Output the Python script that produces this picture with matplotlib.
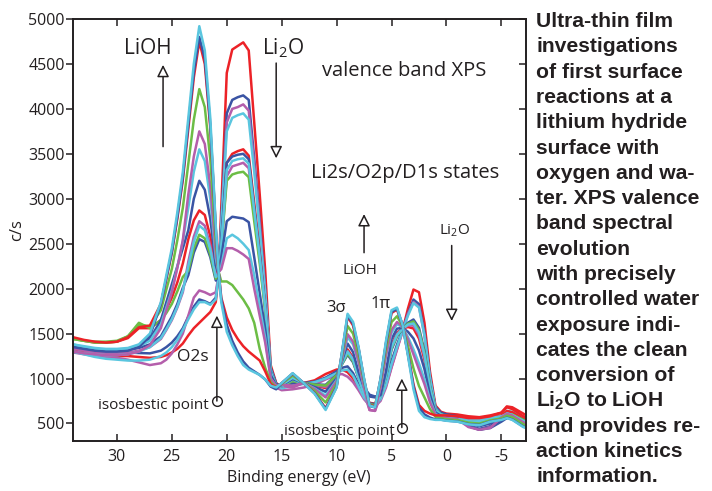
import matplotlib
matplotlib.use('Agg')
import matplotlib.pyplot as plt

plt.rcParams['font.family'] = ['Open Sans', 'DejaVu Sans']
plt.rcParams['mathtext.fontset'] = 'custom'
plt.rcParams['mathtext.rm'] = 'Open Sans'
plt.rcParams['mathtext.bf'] = 'Liberation Sans:bold'

# binding energy grid (eV), shared by all spectra
energy = [34, 33, 32, 31, 30, 29, 28, 27, 26, 25.5, 25, 24.5, 24,
          23.5, 23, 22.5, 22, 21.5, 21, 20.75, 20.5, 20, 19.5, 19, 18.5, 18, 17.5, 17, 16.5, 16, 15.5,
          15, 14, 13, 12, 11, 10, 9.5, 9, 8.5, 8, 7.5, 7, 6.5, 6, 5.5,
          5, 4.5, 4, 3.5, 3, 2.5, 2, 1.5, 1, 0.5, 0, -1, -2, -3, -4, -5, -5.5, -6, -7, -7.5]

# spectra (c/s), from Li2O-like (first) to LiOH-like (last)
s01 = [1320, 1290, 1270, 1260, 1250, 1250, 1240, 1230, 1240, 1260, 1290, 1330, 1390,
       1480, 1560, 1620, 1680, 1740, 1850, 2150, 2900, 4400, 4660, 4700, 4740, 4650, 3850, 3050, 2200, 1150, 950,
       900, 930, 950, 980, 1050, 1100, 1100, 1070, 1000, 900, 800, 730, 720, 780, 920,
       1130, 1330, 1530, 1780, 1990, 1960, 1620, 1080, 700, 630, 610, 600, 580, 570, 590, 620, 690, 680, 610, 570]
s02 = [1356, 1327, 1307, 1297, 1288, 1289, 1284, 1280, 1310, 1350, 1400, 1470, 1560,
       1690, 1800, 1880, 1860, 1830, 1900, 2150, 2750, 3950, 4100, 4130, 4150, 4100, 3450, 2750, 2000, 1120, 945,
       905, 943, 950, 965, 1010, 1080, 1120, 1135, 1060, 935, 810, 725, 714, 787, 953,
       1193, 1376, 1537, 1727, 1879, 1828, 1515, 1027, 684, 621, 602, 580, 500, 470, 500, 560, 600, 600, 550, 520]
s03 = [1290, 1270, 1250, 1240, 1230, 1210, 1180, 1150, 1170, 1210, 1280, 1380, 1500,
       1700, 1900, 1980, 1960, 1930, 1960, 2150, 2700, 3850, 4000, 4020, 4050, 3980, 3380, 2700, 1980, 1080, 900,
       870, 880, 900, 930, 990, 1040, 1050, 1020, 960, 870, 770, 700, 690, 750, 900,
       1120, 1320, 1520, 1720, 1850, 1800, 1480, 1000, 660, 590, 570, 550, 520, 500, 540, 580, 620, 610, 560, 530]
s04 = [1300, 1270, 1240, 1220, 1210, 1200, 1200, 1210, 1250, 1290, 1350, 1430, 1540,
       1660, 1770, 1850, 1850, 1820, 1880, 2140, 2700, 3750, 3900, 3930, 3950, 3880, 3300, 2650, 1950, 1100, 930,
       890, 920, 940, 960, 1000, 1060, 1090, 1100, 1030, 910, 790, 710, 700, 770, 930,
       1160, 1350, 1530, 1700, 1840, 1790, 1480, 1010, 670, 600, 580, 570, 550, 540, 560, 590, 640, 630, 570, 540]
s05 = [1450, 1420, 1400, 1400, 1410, 1450, 1560, 1560, 1650, 1770, 1900, 2070, 2280,
       2550, 2760, 2870, 2820, 2580, 2190, 2170, 2480, 3400, 3500, 3530, 3550, 3480, 2950, 2400, 1800, 1060, 930,
       920, 981, 950, 921, 894, 1022, 1178, 1324, 1234, 1037, 839, 710, 697, 807, 1049,
       1376, 1509, 1557, 1573, 1557, 1445, 1210, 873, 638, 595, 579, 569, 545, 535, 563, 589, 639, 625, 551, 519]
s06 = [1370, 1345, 1325, 1315, 1310, 1320, 1340, 1380, 1470, 1580, 1690, 1830, 2010,
       2150, 2400, 2550, 2520, 2350, 2090, 2160, 2550, 3400, 3470, 3490, 3500, 3440, 2900, 2380, 1800, 1080, 935,
       915, 969, 950, 935, 930, 1040, 1160, 1265, 1180, 1005, 880, 800, 790, 830, 1019,
       1319, 1468, 1551, 1621, 1657, 1564, 1305, 921, 652, 603, 586, 576, 480, 440, 470, 570, 590, 590, 540, 510]
s07 = [1330, 1310, 1290, 1280, 1280, 1290, 1310, 1350, 1440, 1540, 1650, 1790, 1960,
       2300, 2580, 2750, 2700, 2480, 2150, 2160, 2450, 3250, 3360, 3380, 3400, 3340, 2830, 2330, 1770, 1060, 920,
       918, 900, 950, 926, 906, 1028, 1172, 1304, 1216, 1026, 836, 650, 640, 805, 1039,
       1357, 1496, 1555, 1589, 1590, 1485, 1242, 889, 642, 598, 581, 571, 470, 430, 460, 530, 570, 570, 520, 500]
s08 = [1440, 1420, 1410, 1410, 1420, 1470, 1620, 1560, 1650, 1730, 1830, 1970, 2130,
       2200, 2450, 2600, 2560, 2380, 2110, 2160, 2450, 3200, 3270, 3290, 3300, 3240, 2750, 2280, 1750, 1060, 925,
       916, 972, 950, 932, 922, 1036, 1164, 1278, 1192, 1012, 832, 714, 701, 802, 1026,
       1332, 1477, 1552, 1610, 1635, 1538, 1284, 910, 649, 601, 584, 574, 551, 541, 568, 570, 600, 600, 540, 510]
s09 = [1300, 1280, 1270, 1260, 1260, 1270, 1300, 1350, 1450, 1550, 1660, 1800, 1980,
       2250, 2520, 2700, 2650, 2440, 2130, 2160, 2480, 3320, 3420, 3440, 3450, 3390, 2870, 2350, 1790, 1070, 925,
       915, 990, 940, 900, 850, 1000, 1170, 1300, 1210, 1010, 820, 690, 680, 800, 1030,
       1345, 1485, 1553, 1600, 1612, 1511, 1263, 899, 645, 600, 582, 572, 550, 540, 565, 580, 600, 590, 530, 500]
s10 = [1360, 1340, 1320, 1310, 1310, 1320, 1360, 1440, 1650, 1850, 2050, 2250, 2450,
       2650, 3000, 3200, 3100, 2780, 2260, 2170, 2350, 2750, 2800, 2790, 2780, 2740, 2350, 1950, 1550, 1037, 925,
       925, 994, 950, 906, 854, 1002, 1198, 1389, 1294, 1072, 900, 820, 800, 814, 1082,
       1439, 1555, 1564, 1520, 1446, 1313, 1105, 820, 622, 586, 571, 561, 470, 430, 450, 520, 560, 560, 510, 490]
s11 = [1380, 1350, 1330, 1320, 1320, 1330, 1360, 1420, 1600, 1790, 1980, 2240, 2530,
       2900, 3300, 3550, 3420, 3000, 2340, 2180, 2250, 2560, 2600, 2560, 2500, 2430, 2150, 1800, 1450, 1000, 915,
       930, 1008, 950, 890, 810, 980, 1220, 1460, 1380, 1180, 900, 700, 690, 900, 1250,
       1508, 1606, 1572, 1462, 1324, 1168, 990, 762, 604, 576, 562, 552, 526, 516, 548, 572, 612, 596, 520, 492]
s12 = [1300, 1280, 1270, 1260, 1260, 1270, 1300, 1370, 1560, 1760, 1960, 2230, 2540,
       3050, 3470, 3750, 3610, 3140, 2400, 2183, 2217, 2450, 2450, 2420, 2380, 2330, 2000, 1700, 1400, 1000, 917,
       933, 920, 950, 883, 790, 970, 1230, 1493, 1410, 1190, 900, 650, 640, 900, 1260,
       1540, 1629, 1576, 1435, 1269, 1102, 938, 736, 596, 572, 558, 548, 460, 430, 450, 568, 606, 589, 512, 486]
s13 = [1440, 1420, 1400, 1400, 1410, 1470, 1600, 1580, 1760, 1990, 2220, 2540, 2900,
       3390, 3880, 4220, 4020, 3440, 2520, 2190, 2080, 2080, 2040, 1960, 1880, 1780, 1620, 1330, 1120, 960, 900,
       940, 1033, 950, 861, 734, 942, 1258, 1584, 1500, 1260, 960, 710, 700, 960, 1330,
       1628, 1693, 1585, 1361, 1113, 917, 790, 661, 574, 559, 547, 537, 509, 499, 535, 557, 587, 569, 491, 467]
s14 = [1460, 1430, 1410, 1400, 1410, 1460, 1570, 1590, 1830, 2110, 2400, 2780, 3210,
       3780, 4350, 4750, 4500, 3790, 2660, 2200, 1900, 1680, 1540, 1440, 1360, 1300, 1250, 1200, 1080, 940, 900,
       948, 1054, 950, 838, 670, 910, 1290, 1688, 1590, 1330, 990, 705, 690, 990, 1390,
       1729, 1767, 1597, 1276, 935, 706, 640, 610, 590, 590, 590, 580, 560, 560, 580, 620, 680, 660, 580, 540]
s15 = [1350, 1330, 1310, 1300, 1300, 1310, 1350, 1470, 1830, 2120, 2410, 2800, 3240,
       3830, 4410, 4800, 4560, 3830, 2670, 2200, 1880, 1600, 1420, 1290, 1190, 1120, 1080, 1040, 990, 910, 880,
       949, 1056, 950, 835, 662, 906, 1294, 1700, 1610, 1340, 990, 700, 680, 990, 1400,
       1741, 1776, 1598, 1266, 913, 680, 601, 566, 545, 543, 532, 522, 493, 483, 522, 542, 564, 544, 465, 444]
s16 = [1380, 1360, 1340, 1330, 1330, 1340, 1380, 1500, 1850, 2150, 2450, 2850, 3300,
       3900, 4500, 4920, 4650, 3900, 2700, 2200, 1850, 1520, 1370, 1250, 1150, 1100, 1070, 1040, 990, 920, 900,
       950, 1060, 950, 830, 650, 900, 1300, 1720, 1630, 1350, 1000, 700, 680, 1000, 1420,
       1760, 1790, 1600, 1250, 880, 640, 570, 550, 540, 540, 530, 520, 490, 480, 520, 540, 560, 540, 460, 440]

red, blue, green, magenta, cyan = '#ec2227', '#3a54a4', '#6cbd45', '#b45eab', '#5ac6df'
spectra = [(s01, red), (s02, blue), (s03, magenta), (s04, cyan), (s05, red), (s06, blue),
           (s07, magenta), (s08, green), (s09, cyan), (s10, blue), (s11, cyan), (s12, magenta),
           (s13, green), (s14, red), (s15, blue), (s16, cyan)]

side_text = ['Ultra-thin film', 'investigations', 'of first surface', 'reactions at a',
             'lithium hydride', 'surface with', 'oxygen and wa-', 'ter. XPS valence',
             'band spectral', 'evolution', 'with precisely', 'controlled water',
             'exposure indi-', 'cates the clean', 'conversion of', r'Li$_\mathbf{2}$O to LiOH',
             'and provides re-', 'action kinetics', 'information.']

fig = plt.figure(figsize=(7.12, 4.91), dpi=100)
ax = fig.add_axes([73 / 712, 1 - 441 / 491, (525.5 - 73) / 712, (441 - 19) / 491])

for vals, col in spectra:
    ax.plot(energy, vals, color=col, lw=1.8, solid_joinstyle='round')

ax.set_xlim(34, -7.2)
ax.set_ylim(305, 5000)
ax.set_xticks([30, 25, 20, 15, 10, 5, 0, -5])
ax.set_xticklabels(['30', '25', '20', '15', '10', '5', '0', '-5'])
ax.set_yticks(range(500, 5001, 500))
ax.tick_params(axis='both', labelsize=11.5, colors='#231f20', width=1.1, length=5)
ax.tick_params(axis='y', direction='out', pad=1, right=True)
ax.tick_params(axis='x', direction='in', pad=6, top=True)
# right ticks point inward, left ticks outward
for t in ax.yaxis.get_major_ticks():
    t.tick2line.set_marker(matplotlib.lines.TICKLEFT)
for sp in ax.spines.values():
    sp.set_linewidth(1.4)
    sp.set_color('#231f20')
ax.set_xlabel('Binding energy (eV)', fontsize=11.5, color='#231f20', labelpad=3)
ax.set_ylabel('c/s', fontsize=12, color='#231f20', labelpad=2)

txt = dict(color='#231f20', ha='center', va='center')
arr = dict(arrowstyle='-|>', fc='white', ec='#231f20', lw=1.1, mutation_scale=18, shrinkA=0, shrinkB=0)

ax.text(27.2, 4670, 'LiOH', fontsize=15, **txt)
ax.annotate('', xy=(25.8, 4490), xytext=(25.8, 3580), arrowprops=arr)
ax.text(14.9, 4680, 'Li$_2$O', fontsize=15, **txt)
ax.annotate('', xy=(15.5, 3450), xytext=(15.5, 4510), arrowprops=arr)
ax.text(3.8, 4420, 'valence band XPS', fontsize=14.5, **txt)
ax.text(3.8, 3290, 'Li2s/O2p/D1s states', fontsize=14.5, **txt)
ax.annotate('', xy=(7.5, 2830), xytext=(7.5, 2400), arrowprops=arr)
ax.text(7.9, 2200, 'LiOH', fontsize=11, **txt)
ax.text(-0.75, 2640, 'Li$_2$O', fontsize=11, **txt)
ax.annotate('', xy=(-0.48, 1640), xytext=(-0.48, 2480), arrowprops=arr)
ax.text(10.05, 1790, '3σ', fontsize=12, **txt)
ax.text(6.0, 1830, '1π', fontsize=12, **txt)
ax.text(23.1, 1245, 'O2s', fontsize=12.5, **txt)

# isosbestic point markers
for ex, y0, y1, tx in [(20.9, 750, 1700, 21.65), (4.06, 455, 1000, 4.75)]:
    ax.annotate('', xy=(ex, y1), xytext=(ex, y0), arrowprops=arr, zorder=6)
    ax.plot([ex], [y0], marker='o', ms=7, mfc='none', mec='#231f20', mew=1.0, zorder=6)
    ax.text(tx, y0 - 45, 'isosbestic point', fontsize=11, color='#231f20', ha='right', va='center')

for i, line in enumerate(side_text):
    fig.text(536 / 712, 1 - (27 + 25.3 * i) / 491, line, fontsize=15.2, fontweight='bold',
             family='Liberation Sans', color='#231f20', ha='left', va='baseline')

fig.savefig('out.png', dpi=100)
